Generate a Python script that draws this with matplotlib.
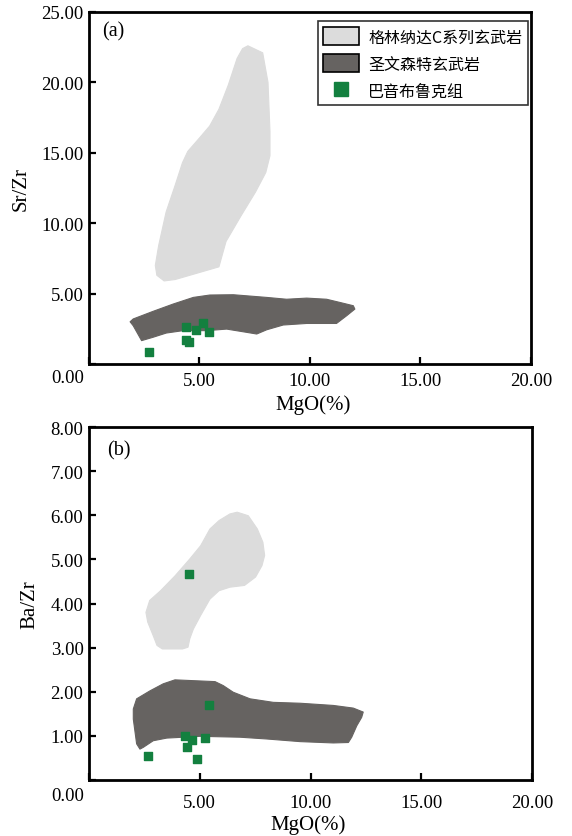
import matplotlib
matplotlib.use("Agg")
import matplotlib.pyplot as plt
from matplotlib.patches import Polygon, Patch
from matplotlib.lines import Line2D

# MgO vs Sr/Zr fields (panel a)
greenland_a_x = [7.19, 7.86, 8.10, 8.19, 8.19, 8.00, 7.53, 6.87, 6.20, 5.88, 5.22, 3.90, 3.40,
                 3.07, 3.00, 3.15, 3.49, 3.90, 4.23, 4.47, 4.97, 5.46, 5.88, 6.30, 6.70, 6.95]
greenland_a_y = [22.6, 22.1, 20.0, 16.5, 14.8, 13.6, 12.2, 10.5, 8.7, 6.9, 6.6, 6.0, 5.9,
                 6.3, 7.0, 8.4, 10.8, 12.7, 14.3, 15.1, 16.0, 16.9, 18.1, 19.8, 21.7, 22.4]
stvincent_a_x = [1.86, 2.00, 2.38, 2.90, 3.50, 4.26, 5.32, 6.23, 7.13, 7.59, 8.04, 8.79, 9.85, 11.20,
                 11.66, 12.03, 11.96, 11.36, 10.75, 9.85, 8.94, 8.04, 6.53, 5.47, 4.72, 3.81, 2.90, 2.00]
stvincent_a_y = [3.00, 2.72, 1.66, 1.90, 2.20, 2.37, 2.37, 2.48, 2.25, 2.13, 2.43, 2.77, 2.88, 2.88,
                 3.43, 3.90, 4.14, 4.37, 4.60, 4.68, 4.60, 4.73, 4.92, 4.90, 4.73, 4.26, 3.74, 3.20]
bayin_a_mgo = [2.73, 4.37, 4.83, 5.17, 5.45, 4.39, 4.54]
bayin_a_srzr = [0.88, 2.65, 2.44, 2.88, 2.30, 1.73, 1.54]

# MgO vs Ba/Zr fields (panel b)
greenland_b_x = [6.69, 7.19, 7.60, 7.85, 7.93, 7.81, 7.52, 7.02, 6.36, 5.87, 5.46, 5.04, 4.71, 4.55, 4.47,
                 4.22, 3.31, 3.07, 2.90, 2.65, 2.57, 2.74, 3.23, 3.89, 4.55, 5.04, 5.46, 5.87, 6.36]
greenland_b_y = [6.07, 5.99, 5.69, 5.39, 5.09, 4.86, 4.60, 4.41, 4.37, 4.29, 4.10, 3.73, 3.42, 3.20, 3.01,
                 2.97, 2.97, 3.05, 3.27, 3.58, 3.80, 4.07, 4.29, 4.63, 5.01, 5.31, 5.69, 5.88, 6.03]
stvincent_b_x = [2.00, 2.15, 2.75, 3.35, 3.88, 5.69, 6.06, 6.51, 7.27, 8.32, 9.53, 11.03, 11.93, 12.38, 12.31,
                 12.09, 11.86, 11.71, 11.03, 9.53, 8.02, 6.82, 5.01, 3.51, 2.90, 2.45, 2.30, 2.15, 2.08, 2.00]
stvincent_b_y = [1.61, 1.84, 2.02, 2.18, 2.27, 2.23, 2.14, 1.99, 1.84, 1.76, 1.74, 1.69, 1.63, 1.54, 1.42,
                 1.23, 0.97, 0.85, 0.84, 0.87, 0.93, 0.97, 0.99, 0.95, 0.89, 0.74, 0.70, 0.82, 1.08, 1.38]
bayin_b_mgo = [4.51, 5.43, 4.33, 4.64, 5.24, 4.41, 2.65, 4.86]
bayin_b_bazr = [4.66, 1.71, 0.99, 0.91, 0.95, 0.75, 0.55, 0.48]

labels = ["格林纳达C系列玄武岩", "圣文森特玄武岩", "巴音布鲁克组"]
light = "#dcdcdc"
dark = "#666361"
green = "#13803f"
serif = "Liberation Serif"
cjk = ["Noto Sans CJK SC", "DejaVu Sans"]
tick_fs = 13.5
label_fs = 15

fig = plt.figure(figsize=(5.72, 8.37), dpi=100)
ax1 = fig.add_axes([0.1556, 0.5639, 0.7727, 0.4206])
ax2 = fig.add_axes([0.1556, 0.0669, 0.7745, 0.4217])


def field(ax, xs, ys, color):
    ax.add_patch(Polygon(list(zip(xs, ys)), closed=True, facecolor=color,
                         edgecolor=color, linewidth=0.8, joinstyle="round", zorder=1))


def style(ax, ymax, xpad, zero_y):
    ax.set_xlim(0, 20)
    ax.set_ylim(0, ymax)
    for s in ax.spines.values():
        s.set_linewidth(2.0)
    ax.set_xticks([0, 5, 10, 15, 20])
    ax.set_xticklabels(["", "5.00", "10.00", "15.00", "20.00"])
    yt = list(range(0, ymax + 1, 5 if ymax > 10 else 1))
    ax.set_yticks(yt)
    ax.set_yticklabels([""] + ["%.2f" % v for v in yt[1:]])
    ax.tick_params(direction="in", length=5, width=1.6, labelsize=tick_fs)
    ax.tick_params(axis="x", pad=xpad)
    ax.tick_params(axis="y", pad=4)
    for t in ax.get_xticklabels() + ax.get_yticklabels():
        t.set_family(serif)
    ax.text(-0.01, zero_y, "0.00", transform=ax.transAxes, ha="right", va="center",
            fontsize=tick_fs, family=serif)


field(ax1, greenland_a_x, greenland_a_y, light)
field(ax1, stvincent_a_x, stvincent_a_y, dark)
ax1.scatter(bayin_a_mgo, bayin_a_srzr, marker="s", s=40, color=green, zorder=3)
style(ax1, 25, 6, -0.037)
ax1.text(0.03, 0.945, "(a)", transform=ax1.transAxes, fontsize=14.5, family=serif, va="center")
ax1.set_ylabel("Sr/Zr", fontsize=label_fs, family=serif)
ax1.yaxis.set_label_coords(-0.131, 0.5)
ax1.set_xlabel("MgO(%)", fontsize=label_fs, family=serif)
ax1.xaxis.set_label_coords(0.508, -0.086)

handles = [Patch(facecolor=light, edgecolor="black", linewidth=1.2),
           Patch(facecolor=dark, edgecolor="black", linewidth=1.2),
           Line2D([], [], linestyle="none", marker="s", markersize=10, color=green)]
leg = ax1.legend(handles, labels, loc="upper right", bbox_to_anchor=(0.993, 0.974),
                 prop={"family": cjk, "size": 11.5}, frameon=True, fancybox=False,
                 edgecolor="black", handlelength=2.2, handleheight=1.4, labelspacing=0.55,
                 borderpad=0.35, handletextpad=0.6, borderaxespad=0)
leg.get_frame().set_linewidth(1.2)

field(ax2, greenland_b_x, greenland_b_y, light)
field(ax2, stvincent_b_x, stvincent_b_y, dark)
ax2.scatter(bayin_b_mgo, bayin_b_bazr, marker="s", s=40, color=green, zorder=3)
style(ax2, 8, 10, -0.045)
ax2.text(0.04, 0.935, "(b)", transform=ax2.transAxes, fontsize=14.5, family=serif, va="center")
ax2.set_ylabel("Ba/Zr", fontsize=label_fs, family=serif)
ax2.yaxis.set_label_coords(-0.112, 0.5)
ax2.set_xlabel("MgO(%)", fontsize=label_fs, family=serif)
ax2.xaxis.set_label_coords(0.494, -0.097)

fig.savefig("out.png", dpi=100, facecolor="white")
